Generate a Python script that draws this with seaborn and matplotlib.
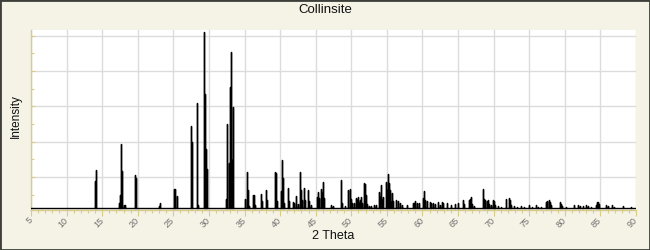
import numpy as np
import pandas as pd
import matplotlib
matplotlib.use("Agg")
import matplotlib.pyplot as plt
from matplotlib.ticker import MultipleLocator, FixedLocator, NullFormatter
from matplotlib.patches import Rectangle
import seaborn as sns

# ---- data ----
title = "Collinsite"
x_label = "2 Theta"
y_label = "Intensity"
scan_start = 5.0
scan_end = 90.0
x_tick_values = list(range(5, 91, 5))

peak_positions = [
    13.95, 14.09, 17.32, 17.46, 17.60, 17.74, 18.05, 18.15, 19.57, 19.70,
    22.95, 23.09, 25.15, 25.30, 25.45, 27.48, 27.59, 28.29, 28.39, 28.53,
    29.28, 29.42, 29.56, 29.70, 32.43, 32.60, 32.75, 32.93, 33.07, 33.21,
    33.36, 33.45, 35.04, 35.28, 35.42, 35.65, 36.22, 36.36, 36.50, 37.30,
    37.42, 37.95, 38.09, 39.29, 39.43, 39.56, 40.10, 40.20, 40.34, 40.55,
    41.15, 41.28, 41.80, 41.92, 42.17, 42.30, 42.45, 42.74, 42.88, 43.02,
    43.30, 43.44, 43.90, 44.02, 44.35, 45.17, 45.37, 45.52, 45.70, 45.88,
    46.07, 46.22, 47.20, 47.45, 48.50, 48.65, 49.05, 49.60, 49.77, 49.92,
    50.05, 50.45, 50.60, 50.77, 50.94, 51.08, 51.22, 51.36, 51.52, 51.78,
    51.92, 52.06, 52.25, 52.50, 52.80, 53.20, 53.50, 53.95, 54.08, 54.22,
    54.36, 54.50, 54.83, 54.97, 55.20, 55.34, 55.48, 55.62, 55.78, 55.92,
    56.24, 56.50, 56.80, 57.10, 57.80, 58.60, 58.80, 59.00, 59.30, 59.55,
    60.13, 60.27, 60.42, 60.70, 61.00, 61.20, 61.50, 61.75, 62.15, 62.40,
    62.70, 62.90, 63.40, 64.07, 64.50, 64.95, 65.70, 65.85, 66.50, 66.65,
    66.80, 66.95, 67.30, 68.52, 68.66, 68.80, 69.08, 69.22, 69.36, 69.60,
    69.90, 70.04, 70.20, 70.60, 71.00, 71.67, 71.80, 72.20, 72.33, 72.47,
    72.90, 73.30, 73.90, 74.30, 75.00, 75.40, 75.90, 76.30, 76.70, 77.38,
    77.55, 77.74, 77.90, 78.10, 79.26, 79.45, 79.65, 80.20, 81.31, 81.80,
    82.20, 82.50, 82.96, 83.30, 83.70, 84.40, 84.55, 84.70, 84.85, 85.80,
    86.10, 86.66, 86.90, 88.20, 89.30,
]
peak_intensities = [
    15.7, 21.8, 3.3, 7.6, 36.5, 21.2, 1.8, 1.8, 19.0, 17.4,
    1.4, 3.3, 11.0, 11.0, 7.0, 46.5, 37.5, 59.7, 57.4, 2.0,
    100.0, 65.0, 33.8, 22.4, 5.5, 47.8, 25.7, 69.0, 88.6, 27.6,
    57.4, 27.0, 5.3, 20.6, 10.5, 1.2, 7.6, 7.6, 2.0, 8.2,
    4.4, 10.5, 4.5, 20.6, 20.0, 4.0, 10.0, 27.4, 17.0, 3.0,
    11.4, 4.0, 3.9, 3.0, 7.0, 4.0, 2.5, 20.5, 10.5, 5.0,
    11.4, 4.5, 10.5, 4.0, 2.0, 6.7, 9.5, 6.0, 10.8, 8.5,
    14.8, 6.0, 2.0, 1.5, 16.1, 3.0, 1.5, 10.5, 11.0, 5.4,
    3.0, 3.0, 5.8, 4.8, 6.7, 3.0, 4.8, 6.3, 3.0, 14.3,
    13.7, 7.6, 2.5, 1.5, 1.5, 2.0, 2.0, 9.5, 6.7, 13.3,
    5.0, 6.7, 15.2, 10.5, 19.5, 14.3, 10.5, 3.5, 8.5, 4.0,
    4.9, 4.0, 3.0, 2.0, 2.0, 3.0, 3.0, 4.0, 3.0, 3.0,
    6.1, 10.0, 4.5, 4.0, 3.5, 3.0, 3.0, 2.5, 3.5, 2.0,
    3.5, 3.0, 3.0, 2.0, 2.3, 3.0, 4.8, 2.5, 4.5, 5.5,
    6.2, 2.5, 1.2, 10.9, 5.2, 4.8, 4.0, 4.8, 2.5, 2.0,
    4.8, 4.0, 2.0, 1.5, 1.0, 5.4, 3.5, 5.8, 4.5, 2.0,
    1.2, 1.0, 1.2, 1.0, 2.0, 1.0, 2.0, 1.0, 1.0, 3.9,
    4.2, 4.8, 3.5, 2.0, 3.9, 2.5, 1.2, 1.0, 2.0, 2.0,
    1.2, 1.2, 2.0, 1.2, 1.0, 2.0, 3.5, 3.9, 2.5, 2.0,
    1.2, 2.0, 1.0, 1.2, 1.0,
]

# ---- build a stick profile (each peak rises from and returns to the baseline) ----
xs = [scan_start]
ys = [0.0]
for p, h in zip(peak_positions, peak_intensities):
    xs += [p, p, p]
    ys += [0.0, h, 0.0]
xs.append(scan_end)
ys.append(0.0)
df = pd.DataFrame({"two_theta": xs, "intensity": ys})

# ---- styling ----
plt.rcParams["font.family"] = ["Liberation Sans", "DejaVu Sans"]
BG = "#F5F2E6"
AXIS_YELLOW = "#D8CC8C"
GRID = "#DCDCDC"

fig = plt.figure(figsize=(6.5, 2.5), dpi=100)
fig.patch.set_facecolor(BG)
ax = fig.add_axes([31 / 650, 40 / 250, 605 / 650, 180 / 250])
ax.set_facecolor("white")

sns.lineplot(data=df, x="two_theta", y="intensity", sort=False, estimator=None,
             color="black", linewidth=1.0, ax=ax, zorder=3)

ax.set_xlim(scan_start, scan_end)
ax.set_ylim(-0.9, 101)

ax.xaxis.set_major_locator(FixedLocator(x_tick_values))
ax.xaxis.set_minor_locator(MultipleLocator(1))
ax.set_xticklabels([str(v) for v in x_tick_values], rotation=45, ha="right",
                   va="center", rotation_mode="anchor", fontsize=6.5, color="#6E6E6E")

ax.yaxis.set_major_locator(FixedLocator([17.8, 37.8, 57.8, 77.8, 97.8]))
ax.yaxis.set_minor_locator(FixedLocator([7.8, 27.8, 47.8, 67.8, 87.8]))
ax.yaxis.set_major_formatter(NullFormatter())

ax.grid(True, which="major", color=GRID, linewidth=1.0, zorder=0)
ax.set_axisbelow(True)

ax.tick_params(axis="x", which="major", direction="out", length=4, width=0.8,
               color=AXIS_YELLOW, pad=2.5)
ax.tick_params(axis="x", which="minor", direction="out", length=2.5, width=0.8,
               color=AXIS_YELLOW)
ax.tick_params(axis="y", which="major", direction="in", length=3, width=0.8,
               color=AXIS_YELLOW)
ax.tick_params(axis="y", which="minor", direction="in", length=2, width=0.8,
               color=AXIS_YELLOW)

for side in ("top", "right"):
    ax.spines[side].set_visible(False)
for side in ("left", "bottom"):
    ax.spines[side].set_color(AXIS_YELLOW)
    ax.spines[side].set_linewidth(1.0)

ax.set_xlabel(x_label, fontsize=9, color="#111111", va="center")
ax.xaxis.set_label_coords(0.5, -26 / 180)
ax.set_ylabel(y_label, fontsize=8.5, color="#111111", va="center")
ax.yaxis.set_label_coords(-15 / 605, 0.52)

fig.suptitle(title, y=1 - 10 / 250, va="center", fontsize=9.5, color="#111111")

fig.patches.append(Rectangle((0, 0), 1, 1, transform=fig.transFigure, fill=False,
                             edgecolor="#3E3E3A", linewidth=2))

fig.savefig("out.png", dpi=100, facecolor=BG)
